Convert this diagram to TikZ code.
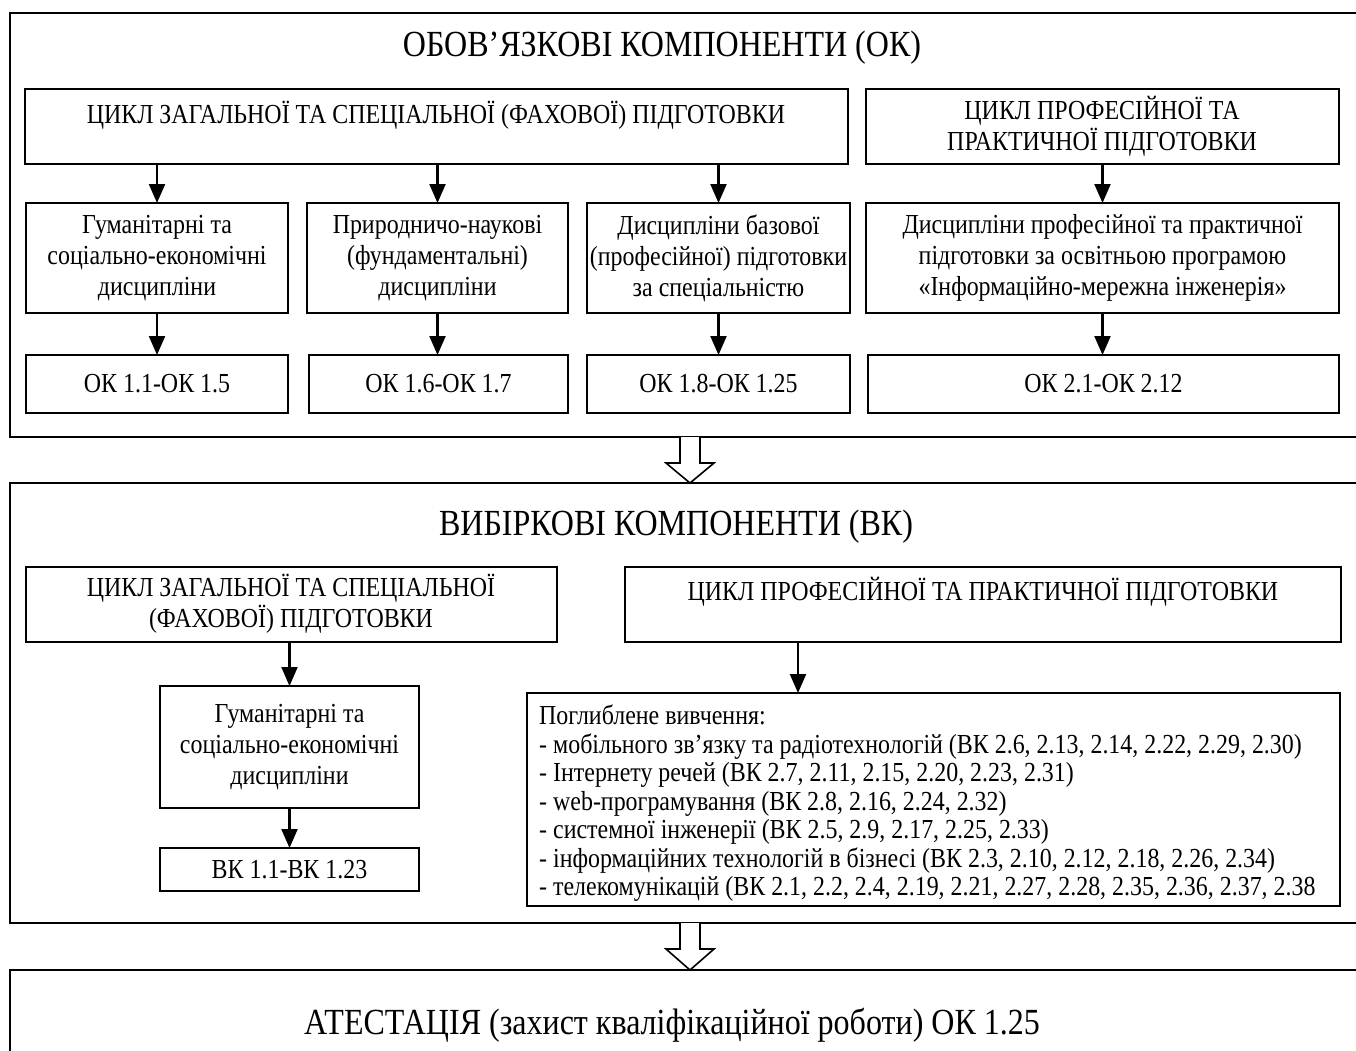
\documentclass[tikz,border=0pt]{standalone}
\usepackage{fontspec}
\setmainfont[FakeStretch=0.87]{Liberation Serif}
\usetikzlibrary{arrows.meta}
\begin{document}
\begin{tikzpicture}[x=1pt,y=-1pt,
  box/.style={draw, line width=1.9pt, inner sep=0pt, outer sep=0pt, anchor=north west},
  txt/.style={font=\fontsize{27.5}{31}\selectfont, align=center, inner sep=0pt},
  ttl/.style={font=\fontsize{36.8}{40}\selectfont, inner sep=0pt},
  lst/.style={font=\fontsize{27.5}{28.5}\selectfont, align=left, inner sep=0pt, anchor=north west},
  arr/.style={line width=2.2pt, -{Triangle[length=19pt,width=16pt]}},
  hollow/.style={draw, line width=1.6pt, fill=white, line join=miter}]
\useasboundingbox (0,0) rectangle (1356,1050);
\clip (0,0) rectangle (1356,1050);
\fill[white] (0,0) rectangle (1356,1050);

% ---------- OK block ----------
\node[box, minimum width=1400pt, minimum height=424pt] (O1) at (10,13) {};
\node[ttl] (T1) at (662,48) {ОБОВ’ЯЗКОВІ КОМПОНЕНТИ (ОК)};

\node[box, minimum width=823pt, minimum height=75pt] (A1) at (25,89) {};
\node[txt] (A1t) at (436,115) {ЦИКЛ ЗАГАЛЬНОЇ ТА СПЕЦІАЛЬНОЇ (ФАХОВОЇ) ПІДГОТОВКИ};
\node[box, minimum width=473pt, minimum height=75pt] (A2) at (866,89) {};
\node[txt] (A2t) at (1102,126) {ЦИКЛ ПРОФЕСІЙНОЇ ТА\\ПРАКТИЧНОЇ ПІДГОТОВКИ};

\node[box, minimum width=262pt, minimum height=110pt] (B1) at (26,203) {};
\node[txt] (B1t) at (B1.center) {Гуманітарні та\\соціально-економічні\\дисципліни};
\node[box, minimum width=261pt, minimum height=110pt] (B2) at (307,203) {};
\node[txt] (B2t) at (B2.center) {Природничо-наукові\\(фундаментальні)\\дисципліни};
\node[box, minimum width=263pt, minimum height=110pt] (B3) at (587,203) {};
\node[txt] (B3t) at (B3.center) {Дисципліни базової\\(професійної) підготовки\\за спеціальністю};
\node[box, minimum width=473pt, minimum height=110pt] (B4) at (866,203) {};
\node[txt] (B4t) at (B4.center) {Дисципліни професійної та практичної\\підготовки за освітньою програмою\\«Інформаційно-мережна інженерія»};

\node[box, minimum width=262pt, minimum height=58pt] (C1) at (26,355) {};
\node[txt] (C1t) at (C1.center) {ОК 1.1-ОК 1.5};
\node[box, minimum width=259pt, minimum height=58pt] (C2) at (309,355) {};
\node[txt] (C2t) at (C2.center) {ОК 1.6-ОК 1.7};
\node[box, minimum width=263pt, minimum height=58pt] (C3) at (587,355) {};
\node[txt] (C3t) at (C3.center) {ОК 1.8-ОК 1.25};
\node[box, minimum width=471pt, minimum height=58pt] (C4) at (868,355) {};
\node[txt] (C4t) at (C4.center) {ОК 2.1-ОК 2.12};

\draw[arr] (B1.north |- A1.south) -- (B1.north);
\draw[arr] (B2.north |- A1.south) -- (B2.north);
\draw[arr] (B3.north |- A1.south) -- (B3.north);
\draw[arr] (A2.south) -- (B4.north);
\draw[arr] (B1.south) -- (C1.north -| B1.south);
\draw[arr] (B2.south) -- (C2.north -| B2.south);
\draw[arr] (B3.south) -- (C3.north -| B3.south);
\draw[arr] (B4.south) -- (C4.north -| B4.south);

% ---------- VK block ----------
\node[box, minimum width=1400pt, minimum height=440pt] (O2) at (10,483) {};
\node[ttl] (T2) at (676,527) {ВИБІРКОВІ КОМПОНЕНТИ (ВК)};

\node[box, minimum width=531pt, minimum height=75pt] (D1) at (26,567) {};
\node[txt] (D1t) at (291,604) {ЦИКЛ ЗАГАЛЬНОЇ ТА СПЕЦІАЛЬНОЇ\\(ФАХОВОЇ) ПІДГОТОВКИ};
\node[box, minimum width=716pt, minimum height=75pt] (D2) at (625,567) {};
\node[txt] (D2t) at (983,592) {ЦИКЛ ПРОФЕСІЙНОЇ ТА ПРАКТИЧНОЇ ПІДГОТОВКИ};

\node[box, minimum width=259pt, minimum height=122pt] (E1) at (160,686) {};
\node[txt] (E1t) at (E1.center) {Гуманітарні та\\соціально-економічні\\дисципліни};
\node[box, minimum width=259pt, minimum height=43pt] (F1) at (160,848) {};
\node[txt] (F1t) at (F1.center) {ВК 1.1-ВК 1.23};

\node[box, minimum width=813pt, minimum height=213pt] (E2) at (527,693) {};
\node[lst] (E2t) at (539,705) {Поглиблене вивчення:\\
- мобільного зв’язку та радіотехнологій (ВК 2.6, 2.13, 2.14, 2.22, 2.29, 2.30)\\
- Інтернету речей (ВК 2.7, 2.11, 2.15, 2.20, 2.23, 2.31)\\
- web-програмування (ВК 2.8, 2.16, 2.24, 2.32)\\
- системної інженерії (ВК 2.5, 2.9, 2.17, 2.25, 2.33)\\
- інформаційних технологій в бізнесі (ВК 2.3, 2.10, 2.12, 2.18, 2.26, 2.34)\\
- телекомунікацій (ВК 2.1, 2.2, 2.4, 2.19, 2.21, 2.27, 2.28, 2.35, 2.36, 2.37, 2.38};

\coordinate (d2a) at (798,642);
\draw[arr] (D1.south -| E1.north) -- (E1.north);
\draw[arr] (E1.south) -- (F1.north);
\draw[arr] (d2a) -- (d2a |- E2.north);

% ---------- Attestation ----------
\node[box, minimum width=1400pt, minimum height=200pt] (G) at (10,970) {};
\node[ttl] (Gt) at (672,1025) {АТЕСТАЦІЯ (захист кваліфікаційної роботи) ОК 1.25};

% ---------- hollow arrows ----------
\draw[hollow] (680,437) -- (680,463) -- (666,463) -- (690,483) -- (714,463) -- (700,463) -- (700,437);
\draw[hollow] (680,923) -- (680,949) -- (666,949) -- (690,970) -- (714,949) -- (700,949) -- (700,923);
\end{tikzpicture}
\end{document}
